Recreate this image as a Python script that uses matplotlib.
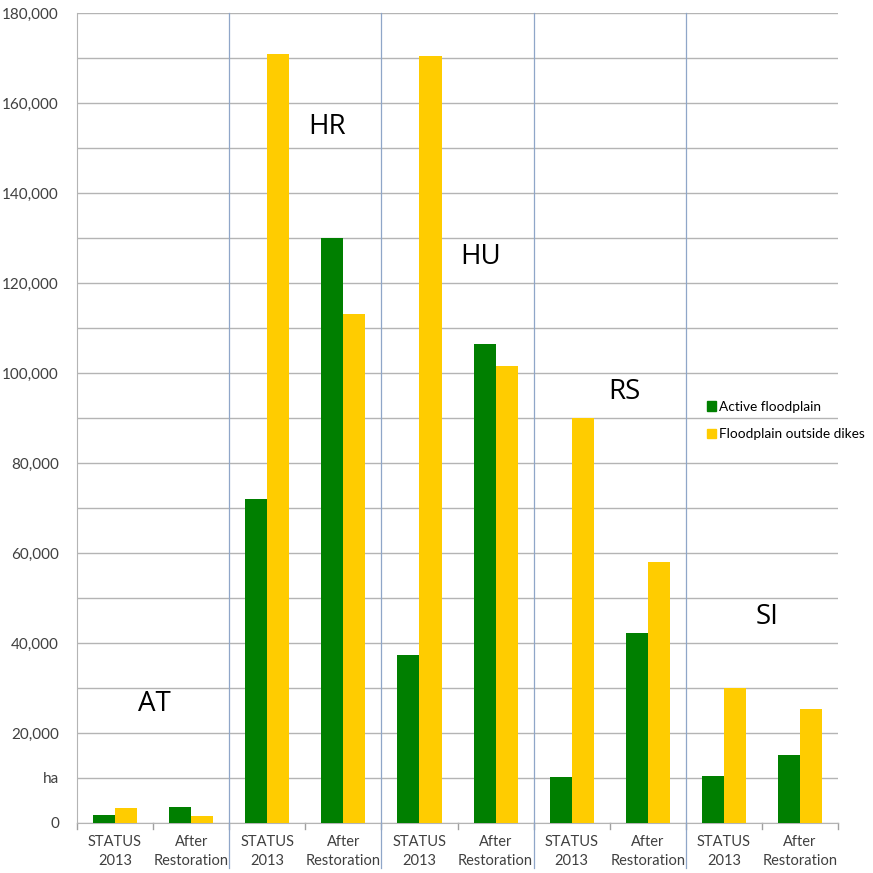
import numpy as np
import matplotlib
matplotlib.use("Agg")
import matplotlib.pyplot as plt
from matplotlib.patches import Patch

plt.rcParams['font.family'] = ['Lato', 'DejaVu Sans']

countries = ['AT', 'HR', 'HU', 'RS', 'SI']
stages = ['STATUS\n2013', 'After\nRestoration']
# hectares, per country: (STATUS 2013, After Restoration)
active = [1800, 3500, 72000, 130000, 37300, 106400, 10300, 42200, 10400, 15000]
outside = [3400, 1600, 171000, 113000, 170400, 101600, 90000, 58000, 30000, 25300]
ytick_vals = np.arange(0, 180001, 10000)
ytick_text = ['0', 'ha'] + ['{:,}'.format(v) if v % 20000 == 0 else '' for v in ytick_vals[2:]]

# where the country names sit (category units, hectares)
label_x = [0.52, 2.78, 4.8, 6.69, 8.57]
label_y = [26500, 154700, 125800, 95800, 45800]

green = '#007f00'
yellow = '#ffcc00'

fig = plt.figure(figsize=(8.73, 8.73), dpi=100)
ax = fig.add_axes([0.0882, 0.0573, 0.8718, 0.9278])

x = np.arange(len(active))
w = 0.29
ax.bar(x - w / 2, active, w, color=green, zorder=3)
ax.bar(x + w / 2, outside, w, color=yellow, zorder=3)

ax.set_xlim(-0.5, len(active) - 0.5)
ax.set_ylim(0, 180000)
ax.set_yticks(ytick_vals)
ax.set_yticklabels(ytick_text)
ax.tick_params(axis='y', length=0, pad=13, labelsize=11, labelcolor='#404040')
ax.grid(axis='y', color='#b4b4b4', linewidth=1.0, zorder=0)

ax.set_xticks(x)
ax.set_xticklabels(stages * len(countries), fontsize=10.5, color='#404040', linespacing=1.45)
ax.tick_params(axis='x', length=0, pad=9)
# small marks between categories
for b in np.arange(-0.5, len(active), 1.0):
    ax.plot([b, b], [0, -0.007], transform=ax.get_xaxis_transform(),
            color='#a0a0a0', lw=1, clip_on=False)

for s in ['top', 'right']:
    ax.spines[s].set_visible(False)
ax.spines['left'].set_color('#b4b4b4')
ax.spines['bottom'].set_color('#b4b4b4')

# separators between countries
for b in np.arange(1.5, len(active) - 1, 2.0):
    ax.plot([b, b], [-0.055, 1.0], transform=ax.get_xaxis_transform(),
            color='#8fa6c8', lw=0.9, clip_on=False, zorder=4)

for c, lx, ly in zip(countries, label_x, label_y):
    ax.text(lx, ly, c, fontsize=20, ha='center', va='center', color='black',
            family=['Open Sans', 'DejaVu Sans'], zorder=5)

handles = [Patch(color=green, label='Active floodplain'),
           Patch(color=yellow, label='Floodplain outside dikes')]
ax.legend(handles=handles, loc='upper left', bbox_to_anchor=(0.82, 0.528),
          frameon=False, fontsize=9.8, handlelength=0.7, handleheight=0.7,
          handletextpad=0.25, labelspacing=1.15, borderaxespad=0)

fig.savefig('out.png', dpi=100, facecolor='white')
